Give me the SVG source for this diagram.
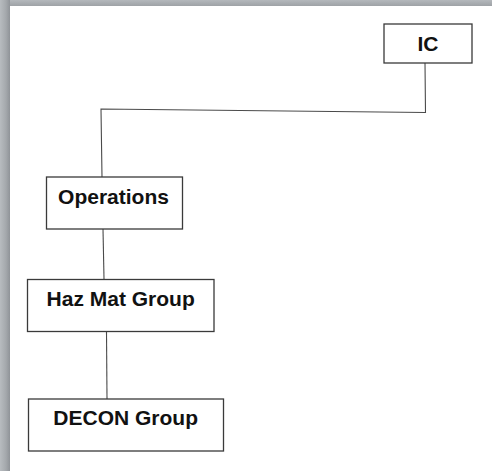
<svg xmlns="http://www.w3.org/2000/svg" width="492" height="471" viewBox="0 0 492 471">
  <defs>
    <linearGradient id="gl" x1="0" y1="0" x2="1" y2="0">
      <stop offset="0" stop-color="#b8bcc0"/>
      <stop offset="0.6" stop-color="#a4a8ac"/>
      <stop offset="1" stop-color="#8f9398"/>
    </linearGradient>
    <linearGradient id="gt" x1="0" y1="0" x2="0" y2="1">
      <stop offset="0" stop-color="#b4b8bc"/>
      <stop offset="1" stop-color="#9ea2a6"/>
    </linearGradient>
    <style>
      .box { fill: #ffffff; stroke: #3a3a3a; stroke-width: 1.3; }
      .lbl { font-family: "Liberation Sans", Arial, sans-serif; font-weight: bold; font-size: 21px; fill: #111111; text-anchor: middle; }
      .con { fill: none; stroke: #4a4a4a; stroke-width: 1.1; }
    </style>
  </defs>
  <rect x="0" y="0" width="492" height="471" fill="#ffffff"/>
  <rect x="0" y="0" width="492" height="6" fill="url(#gt)"/>
  <rect x="0" y="0" width="10" height="471" fill="url(#gl)"/>

  <g id="connectors">
    <polyline class="con" points="425,63 425.5,112.5 101,109 102,177"/>
    <line class="con" x1="103" y1="229" x2="104" y2="279"/>
    <line class="con" x1="106.5" y1="332" x2="107" y2="399"/>
  </g>

  <g id="ic">
    <rect class="box" x="384" y="24" width="88" height="39"/>
    <text class="lbl" x="428" y="51">IC</text>
  </g>
  <g id="operations">
    <rect class="box" x="46.5" y="177" width="136" height="52"/>
    <text class="lbl" x="113.5" y="203.5">Operations</text>
  </g>
  <g id="hazmat">
    <rect class="box" x="27.5" y="279.5" width="186.5" height="52"/>
    <text class="lbl" x="120.7" y="306">Haz Mat Group</text>
  </g>
  <g id="decon">
    <rect class="box" x="28.5" y="399" width="195" height="52"/>
    <text class="lbl" x="125.7" y="424.5">DECON Group</text>
  </g>
</svg>
